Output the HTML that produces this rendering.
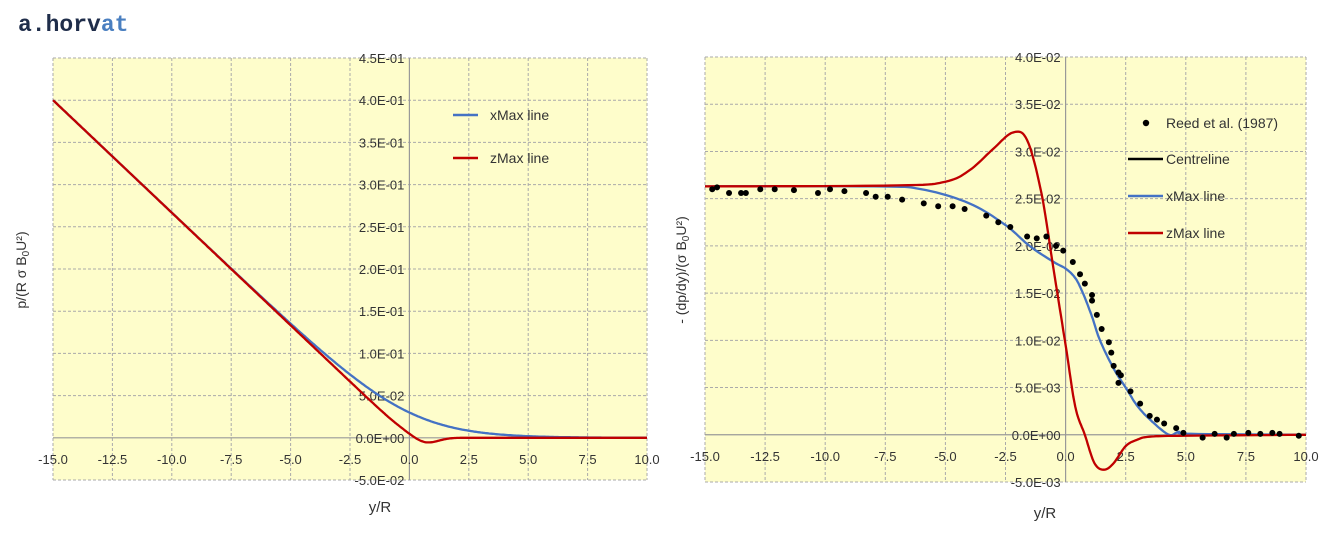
<!DOCTYPE html>
<html><head><meta charset="utf-8"><style>
body{margin:0;background:#fff;width:1330px;height:542px;overflow:hidden;font-family:"Liberation Sans",sans-serif}
svg text{font-family:"Liberation Sans",sans-serif;fill:#333}
</style></head><body>
<svg id="s" width="1330" height="542" xmlns="http://www.w3.org/2000/svg">
<text x="18" y="31" style="font-family:'Liberation Mono',monospace;font-weight:bold;font-size:23px;fill:#1f2d4a">a.horv<tspan style="fill:#4a7fc0">at</tspan></text>
<g id="L"></g><g id="R"></g>
<text transform="translate(26,270) rotate(-90)" text-anchor="middle" font-size="14">p/(R σ B<tspan font-size="10" dy="3">0</tspan><tspan dy="-3">U²)</tspan></text>
<text x="380" y="512" text-anchor="middle" font-size="15">y/R</text>
<text transform="translate(686,270) rotate(-90)" text-anchor="middle" font-size="14">- (dp/dy)/(σ B<tspan font-size="10" dy="3">0</tspan><tspan dy="-3">U²)</tspan></text>
<text x="1045" y="518" text-anchor="middle" font-size="15">y/R</text>
<line x1="453" y1="115" x2="478" y2="115" stroke="#4472c4" stroke-width="2.5"/>
<text x="490" y="120" font-size="14">xMax line</text>
<line x1="453" y1="158" x2="478" y2="158" stroke="#c00000" stroke-width="2.5"/>
<text x="490" y="163" font-size="14">zMax line</text>
<circle cx="1146" cy="123" r="3.2" fill="#000"/>
<text x="1166" y="128" font-size="14">Reed et al. (1987)</text>
<line x1="1128" y1="159" x2="1163" y2="159" stroke="#000" stroke-width="2.5"/>
<text x="1166" y="164" font-size="14">Centreline</text>
<line x1="1128" y1="196" x2="1163" y2="196" stroke="#4472c4" stroke-width="2.5"/>
<text x="1166" y="201" font-size="14">xMax line</text>
<line x1="1128" y1="233" x2="1163" y2="233" stroke="#c00000" stroke-width="2.5"/>
<text x="1166" y="238" font-size="14">zMax line</text>
</svg>
<script>
const NS="http://www.w3.org/2000/svg";
function el(p,t,a,txt){const e=document.createElementNS(NS,t);for(const k in a)e.setAttribute(k,a[k]);if(txt!==undefined)e.textContent=txt;p.appendChild(e);return e;}
function chart(g,x0,x1,ytop,ybot,ymin,ymax,ystep,fmt){
 const X=v=>x0+(v+15)/25*(x1-x0), Y=v=>ybot-(v-ymin)/(ymax-ymin)*(ybot-ytop);
 el(g,'rect',{x:x0,y:ytop,width:x1-x0,height:ybot-ytop,fill:'#fefdcb'});
 for(let v=-15;v<=10.001;v+=2.5){ if(Math.abs(v)>1e-9) el(g,'line',{x1:X(v),x2:X(v),y1:ytop,y2:ybot,stroke:'#aaa','stroke-dasharray':'3,2','stroke-width':1});}
 const n=Math.round((ymax-ymin)/ystep);
 for(let i=0;i<=n;i++){const v=ymin+i*ystep; if(Math.abs(v)>1e-12) el(g,'line',{x1:x0,x2:x1,y1:Y(v),y2:Y(v),stroke:'#aaa','stroke-dasharray':'3,2','stroke-width':1});}
 el(g,'line',{x1:X(0),x2:X(0),y1:ytop,y2:ybot,stroke:'#999','stroke-width':1.2});
 el(g,'line',{x1:x0,x2:x1,y1:Y(0),y2:Y(0),stroke:'#999','stroke-width':1.2});
 for(let i=0;i<=n;i++){const v=ymin+i*ystep; el(g,'text',{x:X(0)-5,y:Y(v)+5,'text-anchor':'end','font-size':13},fmt[i]);}
 for(let v=-15;v<=10.001;v+=2.5){ el(g,'text',{x:X(v),y:Y(0)+26,'text-anchor':'middle','font-size':13},v.toFixed(1));}
 return [X,Y];
}
const sv=document.getElementById('s');
const L=chart(document.getElementById('L'),53,647,58,480,-0.05,0.45,0.05,
 ["-5.0E-02","0.0E+00","5.0E-02","1.0E-01","1.5E-01","2.0E-01","2.5E-01","3.0E-01","3.5E-01","4.0E-01","4.5E-01"]);
const R=chart(document.getElementById('R'),705,1306,57,482,-0.005,0.04,0.005,
 ["-5.0E-03","0.0E+00","5.0E-03","1.0E-02","1.5E-02","2.0E-02","2.5E-02","3.0E-02","3.5E-02","4.0E-02"]);
function sp(y,w){return 0.02667*w*Math.log(1+Math.exp(-y/w));}
function fpath(F,f,col,g){let d="";for(let y=-15;y<=10.0001;y+=0.05){d+=(d?"L":"M")+F[0](y).toFixed(1)+","+F[1](f(y)).toFixed(1);}el(g,'path',{d:d,fill:'none',stroke:col,'stroke-width':2.3});}
const GL=document.getElementById('L');
fpath(L,y=>sp(y,1.62),'#4472c4',GL);
fpath(L,y=>sp(y,0.4)-0.007*Math.exp(-Math.pow((y-0.7)/0.7,2))*(y<3.5?1:Math.exp(-(y-3.5))),'#c00000',GL);
function interp(pts){ // catmull-rom sampled
 const out=[];for(let i=0;i<pts.length-1;i++){const p0=pts[Math.max(0,i-1)],p1=pts[i],p2=pts[i+1],p3=pts[Math.min(pts.length-1,i+2)];
  for(let t=0;t<1;t+=0.1){const t2=t*t,t3=t2*t;const c=(a,b,c2,d)=>0.5*((2*b)+(-a+c2)*t+(2*a-5*b+4*c2-d)*t2+(-a+3*b-3*c2+d)*t3);out.push([c(p0[0],p1[0],p2[0],p3[0]),c(p0[1],p1[1],p2[1],p3[1])]);}}
 out.push(pts[pts.length-1]);return out;}
function ppath(F,pts,col,g){const s=interp(pts);let d="";s.forEach(p=>{d+=(d?"L":"M")+F[0](p[0]).toFixed(1)+","+F[1](p[1]).toFixed(1);});el(g,'path',{d:d,fill:'none',stroke:col,'stroke-width':2.3});}
const GR=document.getElementById('R');
const dots=[[-14.7,.0260],[-14.5,.0262],[-14,.0256],[-13.5,.0256],[-13.3,.0256],[-12.7,.0260],[-12.1,.0260],[-11.3,.0259],[-10.3,.0256],[-9.8,.0260],[-9.2,.0258],[-8.3,.0256],[-7.9,.0252],[-7.4,.0252],[-6.8,.0249],[-5.9,.0245],[-5.3,.0242],[-4.7,.0242],[-4.2,.0239],[-3.3,.0232],[-2.8,.0225],[-2.3,.0220],[-1.6,.0210],[-1.2,.0208],[-0.8,.0210],[-0.4,.0200],[-0.1,.0195],[0.3,.0183],[0.6,.0170],[0.8,.0160],[1.1,.0148],[1.1,.0142],[1.3,.0127],[1.5,.0112],[1.8,.0098],[1.9,.0087],[2.0,.0073],[2.2,.0066],[2.3,.0063],[2.2,.0055],[2.7,.0046],[3.1,.0033],[3.5,.0020],[3.8,.0016],[4.1,.0012],[4.6,.0007],[4.9,.0002],[5.7,-.0003],[6.2,.0001],[6.7,-.0003],[7.0,.0001],[7.6,.0002],[8.1,.0001],[8.6,.0002],[8.9,.0001],[9.7,-.0001]];
ppath(R,[[-15,.0263],[-8,.0263],[-6,.0260],[-4,.0245],[-2.5,.0222],[-1.5,.0200],[-0.5,.0183],[0,.0176],[0.4,.0166],[0.72,.0150],[1.1,.0125],[1.43,.0100],[2,.0070],[2.5,.0050],[3,.0030],[3.6,.0014],[4.3,.0000],[4.7,.0003],[5.2,.0001],[10,0]],'#4472c4',GR);
ppath(R,[[-15,.0263],[-7,.0264],[-5,.0268],[-4,.0280],[-3,.0303],[-2.2,.0320],[-1.6,.0312],[-1,.0255],[-0.5,.0175],[0,.0095],[0.4,.0030],[0.8,0],[1.2,-.0030],[1.6,-.0037],[2.0,-.0030],[2.5,-.0012],[3,-.0005],[3.5,-.0002],[5,-.0001],[10,0]],'#c00000',GR);
dots.forEach(p=>el(GR,'circle',{cx:R[0](p[0]),cy:R[1](p[1]),r:3,fill:'#000'}));
</script>
</body></html>
